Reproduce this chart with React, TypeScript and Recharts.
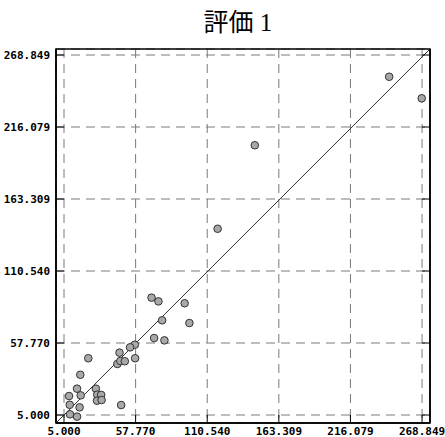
import React from "react"
import { ScatterChart, Scatter, XAxis, YAxis, CartesianGrid, ReferenceLine, ReferenceArea } from "recharts"

// axis ticks (same values on both axes)
const ticks = [5.0, 57.77, 110.54, 163.309, 216.079, 268.849]
const xDomain = [-0.9, 274.7]
const yDomain = [-0.86, 273.25]

// measured vs predicted
const xValues = [
  244.6, 268.6, 145.6, 118.2, 69.5, 74.6, 93.9, 77.3, 97.4, 71.4, 79.0,
  57.2, 53.7, 45.9, 22.9, 57.4, 44.3, 46.5, 49.8, 17.0, 14.6, 28.5,
  8.7, 17.3, 29.5, 32.4, 29.3, 32.7, 9.2, 16.5, 47.1, 9.4, 14.6,
]
const yValues = [
  252.9, 237.1, 202.7, 141.5, 91.0, 88.3, 86.9, 74.4, 72.4, 61.4, 59.7,
  56.5, 54.6, 50.7, 46.6, 46.6, 42.4, 44.6, 44.4, 34.5, 24.3, 24.3,
  18.9, 19.4, 19.9, 19.7, 15.5, 16.0, 12.5, 10.6, 12.3, 5.5, 3.8,
]

const points = xValues.map((x, i) => ({ x, y: yValues[i] }))

const fmt = (v: number) => v.toFixed(3)
const labelStyle = { fontFamily: "'DejaVu Sans Mono', monospace", fontSize: 11, fontWeight: 700, fill: "#000" }
const TICK = 8

function BottomTick(p: any) {
  return (
    <g>
      <line x1={p.x} y1={p.y} x2={p.x} y2={p.y - TICK} stroke="#000" />
      <text x={p.x} y={p.y + 12} textAnchor="middle" style={labelStyle}>{fmt(p.payload.value)}</text>
    </g>
  )
}

function LeftTick(p: any) {
  return (
    <g>
      <line x1={p.x} y1={p.y} x2={p.x + TICK} y2={p.y} stroke="#000" />
      <text x={p.x - 6} y={p.y + 4} textAnchor="end" style={labelStyle}>{fmt(p.payload.value)}</text>
    </g>
  )
}

function TopTick(p: any) {
  return <line x1={p.x} y1={p.y} x2={p.x} y2={p.y + TICK} stroke="#000" />
}

function RightTick(p: any) {
  return <line x1={p.x} y1={p.y} x2={p.x - TICK} y2={p.y} stroke="#000" />
}

const frame = { stroke: "#000", strokeWidth: 1.5 }

export default function App() {
  return (
    <div style={{ position: "absolute", left: 0, top: 0, width: 445, height: 437, background: "#fff" }}>
      <div
        style={{
          position: "absolute", left: 0, top: 10, width: 476, textAlign: "center",
          fontFamily: "'Liberation Serif', 'Noto Sans CJK JP', serif", fontSize: 25, lineHeight: "25px", color: "#000",
        }}
      >
        評価 1
      </div>
      <ScatterChart width={445} height={437} margin={{ top: 49, right: 0, bottom: 0, left: 0 }}>
        <CartesianGrid stroke="#7a7a7a" strokeDasharray="9 6" />
        <XAxis
          type="number" dataKey="x" domain={xDomain} ticks={ticks} allowDataOverflow interval={0}
          height={14} tickSize={0} tickMargin={0} tickLine={false} axisLine={frame} tick={BottomTick}
        />
        <XAxis
          xAxisId="top" orientation="top" type="number" domain={xDomain} ticks={ticks} allowDataOverflow interval={0}
          height={0} tickSize={0} tickMargin={0} tickLine={false} axisLine={frame} tick={TopTick}
        />
        <YAxis
          type="number" dataKey="y" domain={yDomain} ticks={ticks} allowDataOverflow interval={0}
          width={56} tickSize={0} tickMargin={0} tickLine={false} axisLine={frame} tick={LeftTick}
        />
        <YAxis
          yAxisId="right" orientation="right" type="number" domain={yDomain} ticks={ticks} allowDataOverflow interval={0}
          width={15} tickSize={0} tickMargin={0} tickLine={false} axisLine={frame} tick={RightTick}
        />
        <ReferenceArea
          x1={xDomain[0]} x2={xDomain[1]} y1={yDomain[0]} y2={yDomain[1]}
          fill="none" fillOpacity={0} stroke="#000" strokeWidth={1.5} ifOverflow="visible"
        />
        <ReferenceLine
          segment={[{ x: xDomain[0], y: yDomain[0] }, { x: xDomain[1], y: yDomain[1] }]}
          stroke="#333" strokeWidth={1} ifOverflow="visible"
        />
        <Scatter
          data={points}
          isAnimationActive={false}
          shape={(p: any) => <circle cx={p.cx} cy={p.cy} r={3.8} fill="#a8a8a8" stroke="#333" strokeWidth={1} />}
        />
      </ScatterChart>
    </div>
  )
}
